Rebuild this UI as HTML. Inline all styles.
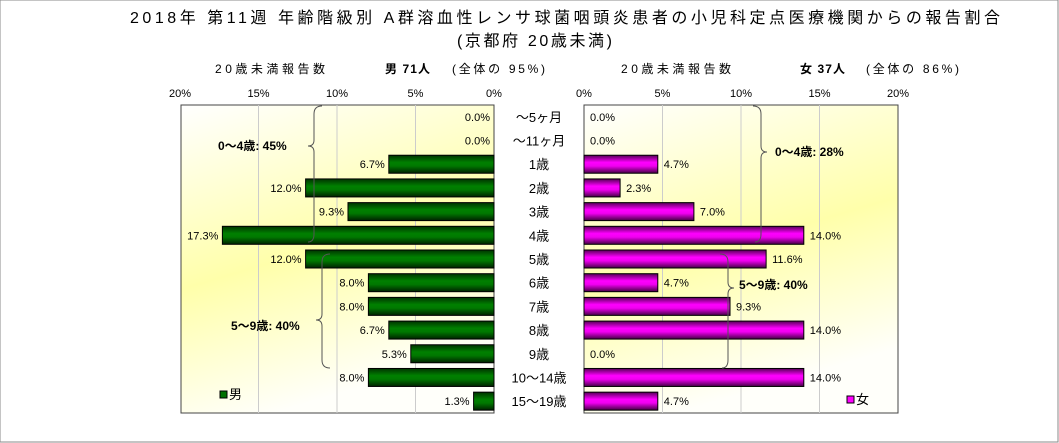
<!DOCTYPE html>
<html><head><meta charset="utf-8"><style>
body{margin:0;background:#fff;}
svg{display:block;font-family:"Liberation Sans","Noto Sans CJK JP",sans-serif;}
</style></head><body>
<svg id="c" width="1059" height="443" viewBox="0 0 1059 443">
<defs>
<linearGradient id="bg" x1="0" y1="0" x2="0.3" y2="1">
<stop offset="0" stop-color="#ffffff"/><stop offset="0.55" stop-color="#ffffaa"/><stop offset="1" stop-color="#fffffa"/></linearGradient>
<linearGradient id="gG" x1="0" y1="0" x2="0" y2="1">
<stop offset="0" stop-color="#003300"/><stop offset="0.4" stop-color="#008000"/><stop offset="0.6" stop-color="#007800"/><stop offset="1" stop-color="#002200"/></linearGradient>
<linearGradient id="gM" x1="0" y1="0" x2="0" y2="1">
<stop offset="0" stop-color="#550055"/><stop offset="0.4" stop-color="#ff00ff"/><stop offset="0.6" stop-color="#f000f0"/><stop offset="1" stop-color="#440044"/></linearGradient>
</defs>
<rect x="0" y="0" width="1058" height="442" fill="#fff" stroke="#888"/>
<text x="130" y="23" font-size="16" textLength="870" lengthAdjust="spacing">2018年 第11週 年齢階級別 A群溶血性レンサ球菌咽頭炎患者の小児科定点医療機関からの報告割合</text>
<text x="457" y="46" font-size="16" textLength="155" lengthAdjust="spacing">(京都府 20歳未満)</text>
<text x="215" y="73" font-size="12" textLength="110" lengthAdjust="spacing">20歳未満報告数</text>
<text x="385" y="73" font-size="12" font-weight="bold" textLength="45" lengthAdjust="spacing">男 71人</text>
<text x="452" y="73" font-size="12" textLength="93" lengthAdjust="spacing">(全体の 95%)</text>
<text x="621" y="73" font-size="12" textLength="110" lengthAdjust="spacing">20歳未満報告数</text>
<text x="800" y="73" font-size="12" font-weight="bold" textLength="45" lengthAdjust="spacing">女 37人</text>
<text x="866" y="73" font-size="12" textLength="93" lengthAdjust="spacing">(全体の 86%)</text>
<g id="L"></g><g id="R"></g><g id="cats"></g>
<g fill="none" stroke="#555" stroke-width="1">
<path d="M322 106 q-8 0 -8 8 v26 q0 6 -6 6 q6 0 6 6 v82 q0 8 -6 8"/>
<path d="M330 254 q-8 0 -8 8 v52 q0 6 -6 6 q6 0 6 6 v34 q0 8 8 8"/>
<path d="M753 106 q8 0 8 8 v32 q0 6 6 6 q-6 0 -6 6 v76 q0 8 -6 8"/>
<path d="M720 254 q8 0 8 8 v20 q0 6 6 6 q-6 0 -6 6 v66 q0 8 -6 8"/>
</g>
<text x="218" y="150" font-size="12" font-weight="bold">0～4歳: 45%</text>
<text x="231" y="330" font-size="12" font-weight="bold">5～9歳: 40%</text>
<text x="775" y="156" font-size="12" font-weight="bold">0～4歳: 28%</text>
<text x="739" y="289" font-size="12" font-weight="bold">5～9歳: 40%</text>
<rect x="220" y="391" width="7" height="7" fill="#007000" stroke="#000"/>
<text x="229" y="399" font-size="13">男</text>
<rect x="847" y="396" width="7" height="7" fill="#ff00ff" stroke="#000"/>
<text x="856" y="404" font-size="13">女</text>
</svg>
<script>
const categories=["～5ヶ月","～11ヶ月","1歳","2歳","3歳","4歳","5歳","6歳","7歳","8歳","9歳","10～14歳","15～19歳"];
const maleValues=[0,0,6.7,12.0,9.3,17.3,12.0,8.0,8.0,6.7,5.3,8.0,1.3];
const femaleValues=[0,0,4.7,2.3,7.0,14.0,11.6,4.7,9.3,14.0,0,14.0,4.7];
const tickValues=[0,5,10,15,20];
const tickLabels=["0%","5%","10%","15%","20%"];
const NS="http://www.w3.org/2000/svg";
const top0=105,bot0=413,rowH=(bot0-top0)/categories.length,barH=18;
const LZ=494,RZ=584,W=314;
const xL=v=>LZ-v/20*W, xR=v=>RZ+v/20*W, yRow=i=>top0+rowH*(i+0.5);
function mk(tag,attrs,parent,txt){const e=document.createElementNS(NS,tag);for(const k in attrs)e.setAttribute(k,attrs[k]);if(txt!=null)e.textContent=txt;parent.appendChild(e);return e;}
const L=document.getElementById('L'),R=document.getElementById('R'),C=document.getElementById('cats');
let p=mk('rect',{x:181,y:top0,width:LZ-181,height:bot0-top0,fill:'url(#bg)',stroke:'#444'},L);


p=mk('rect',{x:RZ,y:top0,width:W,height:bot0-top0,fill:'url(#bg)',stroke:'#444'},R);


tickValues.forEach((t,i)=>{
  if(t>0&&t<20){
    let g=mk('line',{x1:xL(t),x2:xL(t),y1:top0,y2:bot0,stroke:'#ccc'},L);
    
    
    g=mk('line',{x1:xR(t),x2:xR(t),y1:top0,y2:bot0,stroke:'#ccc'},R);
    
    
  }
  let a=mk('text',{x:xL(t),y:97,'font-size':11,'text-anchor':'middle'},L,tickLabels[i]);
  
  
  a=mk('text',{x:xR(t),y:97,'font-size':11,'text-anchor':'middle'},R,tickLabels[i]);
  
  
});
categories.forEach((c,i)=>{
  const y=yRow(i);
  let t=mk('text',{x:539,y:y+5,'font-size':13,'text-anchor':'middle'},C,c);
  
  
  const m=maleValues[i],f=femaleValues[i];
  if(m>0){
    let b=mk('rect',{x:xL(m),y:y-barH/2,width:LZ-xL(m),height:barH,fill:'url(#gG)',stroke:'#000'},L);
    
    
  }
  let lv=mk('text',{x:xL(m)-4,y:y+4,'font-size':11,'text-anchor':'end'},L,m.toFixed(1)+'%');
  
  
  if(f>0){
    let b=mk('rect',{x:RZ,y:y-barH/2,width:xR(f)-RZ,height:barH,fill:'url(#gM)',stroke:'#000'},R);
    
    
  }
  let rv=mk('text',{x:xR(f)+6,y:y+4,'font-size':11},R,f.toFixed(1)+'%');
  
  
});
</script>
</body></html>
